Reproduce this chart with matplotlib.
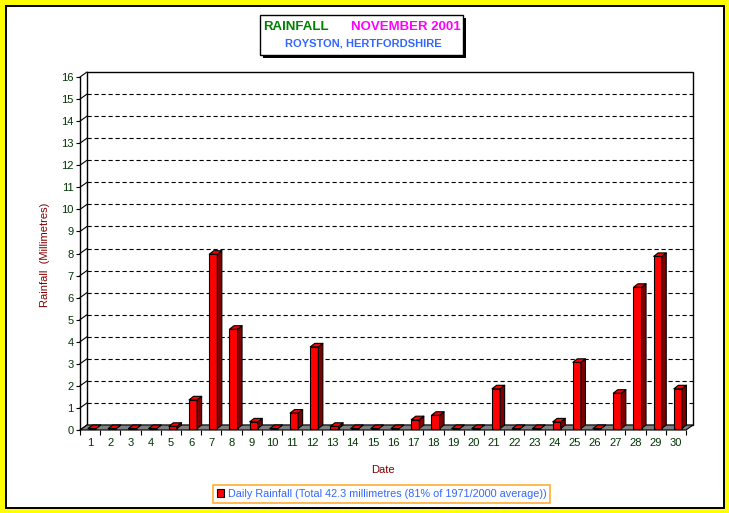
import numpy as np
import matplotlib
matplotlib.use("Agg")
import matplotlib.pyplot as plt
from matplotlib import patches
from matplotlib.collections import PolyCollection

plt.rcParams['font.family'] = ['Liberation Sans', 'DejaVu Sans']

# data (mm of rain per day, November 2001)
days = np.arange(1, 31)
rain = [0.0, 0.0, 0.0, 0.0, 0.1, 1.3, 7.9, 4.5, 0.3, 0.0,
        0.7, 3.7, 0.1, 0.0, 0.0, 0.0, 0.4, 0.6, 0.0, 0.0,
        1.8, 0.0, 0.0, 0.3, 3.0, 0.0, 1.6, 6.4, 7.8, 1.8]
yticks = list(range(0, 17))
legend_label = "Daily Rainfall (Total 42.3 millimetres (81% of 1971/2000 average))"

W, H = 729, 513
fig = plt.figure(figsize=(W / 100, H / 100), dpi=100, facecolor='#FFFF00')

# white panel with black outline
fig.patches.append(patches.Rectangle((5.5 / W, 5.5 / H), 718 / W, 502 / H,
                                     transform=fig.transFigure, fc='white',
                                     ec='black', lw=1.4, zorder=-10))

# front plane of the 3d plot
x0, y0, pw, ph = 80, 430, 606, 353
ax = fig.add_axes([x0 / W, (H - y0) / H, pw / W, ph / H])
ax.set_xlim(0.5, 30.5)
ax.set_ylim(0, 16)
ax.patch.set_visible(False)
for s in ax.spines.values():
    s.set_visible(False)

ux = pw / 30.0   # px per day
uy = ph / 16.0   # px per mm
DX, DY = 7 / ux, 5 / uy   # depth of the chart in data units

# back wall + dashed grid
ax.add_patch(patches.Rectangle((0.5 + DX, DY), 30, 16, fc='white', ec='black',
                               lw=1, clip_on=False, zorder=1))
for y in yticks[1:-1]:
    ax.plot([0.5 + DX, 30.5 + DX], [y + DY, y + DY], color='black', lw=0.8,
            dashes=(3.8, 2.5), clip_on=False, zorder=2)
# side wall lines
for y in yticks:
    ax.plot([0.5, 0.5 + DX], [y, y + DY], color='black', lw=0.8,
            clip_on=False, zorder=2)
ax.plot([0.5, 0.5], [0, 16], color='black', lw=1, clip_on=False, zorder=2)

# floor
ax.add_patch(patches.Polygon([(0.5, 0), (30.5, 0), (30.5 + DX, DY), (0.5 + DX, DY)],
                             closed=True, fc='#808080', ec='black', lw=0.8,
                             clip_on=False, zorder=3))

# bars
bw = 0.4
bx, by = 2 / ux, 1.5 / uy
bdx, bdy = 4.5 / ux, 3.5 / uy
bars = ax.bar(days + bx, rain, width=bw, bottom=by, color='#FF0000',
              edgecolor='black', lw=0.8, clip_on=False, zorder=5,
              label=legend_label)
sides, tops = [], []
for d, v in zip(days, rain):
    xl = d + bx - bw / 2
    xr = d + bx + bw / 2
    sides.append([(xr, by), (xr + bdx, by + bdy), (xr + bdx, by + bdy + v), (xr, by + v)])
    tops.append([(xl, by + v), (xr, by + v), (xr + bdx, by + v + bdy), (xl + bdx, by + v + bdy)])
ax.add_collection(PolyCollection(sides, facecolors='#800000', edgecolors='black',
                                 linewidths=0.8, clip_on=False, zorder=5))
ax.add_collection(PolyCollection(tops, facecolors='#FF0000', edgecolors='black',
                                 linewidths=0.8, clip_on=False, zorder=5))

# ticks
tick_col = '#003300'
ax.set_xticks(np.arange(0.5, 31, 1))
ax.set_xticklabels([])
ax.set_xticks(days, minor=True)
ax.set_xticklabels([str(d) for d in days], minor=True)
ax.tick_params(axis='x', which='major', length=3.6, width=0.8, direction='out')
ax.tick_params(axis='x', which='minor', length=0, pad=5.5, labelsize=8,
               labelcolor=tick_col)
ax.set_yticks(yticks)
ax.set_yticklabels([str(v) for v in yticks])
ax.tick_params(axis='y', length=3, width=0.8, pad=1.5, labelsize=8,
               labelcolor=tick_col)

fig.text(45 / W, 1 - 255 / H, 'Rainfall  (Millimetres)', rotation=90,
         color='#800000', fontsize=8, ha='center', va='center')
fig.text(383 / W, 1 - 470 / H, 'Date', color='#800000', fontsize=8,
         ha='center', va='center')

# title box with shadow
bxl, bxt, bwid, bht = 260, 15, 203, 40
fig.patches.append(patches.Rectangle(((bxl + 3) / W, 1 - (bxt + bht + 3) / H), bwid / W, bht / H,
                                     transform=fig.transFigure, fc='black', ec='none', zorder=1))
fig.patches.append(patches.Rectangle((bxl / W, 1 - (bxt + bht) / H), bwid / W, bht / H,
                                     transform=fig.transFigure, fc='white', ec='black',
                                     lw=1, zorder=2))
fig.text(263 / W, 1 - 27 / H, 'RAINFALL', color='#008000', fontsize=9.5,
         fontweight='bold', ha='left', va='center', zorder=3)
fig.text(461 / W, 1 - 27 / H, 'NOVEMBER 2001', color='#FF00FF', fontsize=9.5,
         fontweight='bold', ha='right', va='center', zorder=3)
fig.text(363.5 / W, 1 - 44 / H, 'ROYSTON, HERTFORDSHIRE', color='#3366FF',
         fontsize=8, fontweight='bold', ha='center', va='center', zorder=3)

# legend
leg = fig.legend(handles=[bars], loc='center', bbox_to_anchor=(381.5 / W, 1 - 494 / H),
                 fontsize=7.8, frameon=True, fancybox=False, edgecolor='#FF9900',
                 handlelength=0.7, handleheight=0.7, handletextpad=0.3,
                 borderpad=0.35, borderaxespad=0)
leg.get_frame().set_linewidth(1.2)
for t in leg.get_texts():
    t.set_color('#3366FF')

fig.savefig('out.png', dpi=100, facecolor=fig.get_facecolor())
